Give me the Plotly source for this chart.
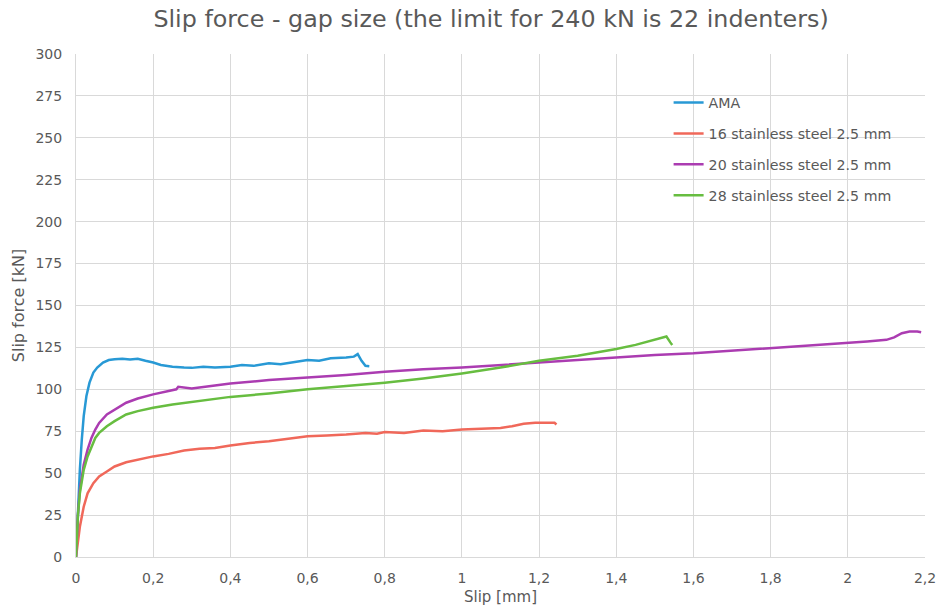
import plotly.graph_objects as go

# Slip [mm] / slip force [kN] readings for each test series
ama_slip = [0, 0.005, 0.01, 0.015, 0.02, 0.027, 0.035, 0.045, 0.055, 0.07, 0.085, 0.1, 0.12, 0.14,
            0.16, 0.18, 0.2, 0.22, 0.25, 0.28, 0.3, 0.33, 0.36, 0.4, 0.43, 0.46, 0.5, 0.53, 0.56,
            0.6, 0.63, 0.66, 0.7, 0.72, 0.73, 0.74, 0.75, 0.76]
ama_force = [0, 30, 52, 70, 84, 96, 104, 110, 113, 116, 117.5, 118, 118.3, 117.8,
             118.2, 117, 116, 114.5, 113.5, 113, 112.8, 113.5, 113, 113.5, 114.5, 114, 115.5, 115, 116,
             117.5, 117, 118.5, 119, 119.5, 121, 117, 114, 113.8]

ss16_slip = [0, 0.005, 0.01, 0.02, 0.03, 0.045, 0.06, 0.08, 0.1, 0.13, 0.16, 0.2, 0.24, 0.28, 0.32,
             0.36, 0.4, 0.45, 0.5, 0.55, 0.6, 0.65, 0.7, 0.75, 0.78, 0.8, 0.85, 0.9, 0.95, 1.0, 1.05,
             1.1, 1.13, 1.16, 1.19, 1.22, 1.24, 1.245]
ss16_force = [0, 10, 18, 30, 38, 44, 48, 51, 54, 56.5, 58, 60, 61.5, 63.5, 64.5,
              65, 66.5, 68, 69, 70.5, 72, 72.5, 73, 74, 73.5, 74.5, 74, 75.5, 75, 76, 76.5,
              77, 78, 79.5, 80, 80, 80, 79]

ss20_slip = [0, 0.005, 0.01, 0.02, 0.03, 0.04, 0.05, 0.06, 0.08, 0.1, 0.13, 0.16, 0.2, 0.24, 0.26,
             0.265, 0.3, 0.35, 0.4, 0.5, 0.6, 0.7, 0.8, 0.9, 1.0, 1.1, 1.2, 1.3, 1.4, 1.5, 1.6,
             1.7, 1.8, 1.9, 2.0, 2.05, 2.1, 2.12, 2.14, 2.16, 2.18, 2.19]
ss20_force = [0, 25, 40, 55, 64, 71, 76, 80, 85, 88, 92, 94.5, 97, 99, 100,
              101.5, 100.5, 102, 103.5, 105.5, 107, 108.5, 110.5, 112, 113, 114.5, 116, 117.5, 119, 120.5, 121.5,
              123, 124.5, 126, 127.5, 128.5, 129.5, 131, 133.5, 134.5, 134.5, 134]

ss28_slip = [0, 0.005, 0.01, 0.02, 0.03, 0.04, 0.05, 0.06, 0.08, 0.1, 0.13, 0.16, 0.2, 0.25, 0.3,
             0.4, 0.5, 0.6, 0.7, 0.8, 0.9, 1.0, 1.1, 1.2, 1.3, 1.4, 1.45, 1.5, 1.52, 1.53, 1.54, 1.545]
ss28_force = [0, 25, 38, 52, 60, 66, 71, 74, 78, 81, 85, 87, 89, 91, 92.5,
              95.5, 97.5, 100, 102, 104, 106.5, 109.5, 113, 117, 120, 124, 126.5, 129.5, 131, 131.5, 128, 126.5]

series = [
    ("AMA", ama_slip, ama_force, "#2899d5"),
    ("16 stainless steel 2.5 mm", ss16_slip, ss16_force, "#f0685a"),
    ("20 stainless steel 2.5 mm", ss20_slip, ss20_force, "#ab3cb1"),
    ("28 stainless steel 2.5 mm", ss28_slip, ss28_force, "#67bd40"),
]

x_ticks = [0, 0.2, 0.4, 0.6, 0.8, 1.0, 1.2, 1.4, 1.6, 1.8, 2.0, 2.2]
x_labels = ["0", "0,2", "0,4", "0,6", "0,8", "1", "1,2", "1,4", "1,6", "1,8", "2", "2,2"]
y_ticks = list(range(0, 301, 25))

FONT = "DejaVu Sans, Verdana, sans-serif"
GREY = "#595959"
GRID = "#d9d9d9"

fig = go.Figure()
for i, (name, xs, ys, color) in enumerate(series):
    fig.add_trace(go.Scatter(
        x=xs, y=ys, mode="lines", name=name, legendgroup=f"g{i}",
        line=dict(color=color, width=2.5),
    ))

fig.update_layout(
    width=948, height=614,
    margin=dict(l=76, r=16, t=54, b=56),
    paper_bgcolor="white", plot_bgcolor="white",
    font=dict(family=FONT, color=GREY, size=14),
    title=dict(text="Slip force - gap size (the limit for 240 kN is 22 indenters)",
               x=0.518, xanchor="center", y=0.97, yanchor="middle",
               font=dict(size=23.8, color=GREY, family=FONT)),
    legend=dict(x=0.698, y=0.935, xanchor="left", yanchor="top",
                bgcolor="rgba(0,0,0,0)", font=dict(size=14.2, color=GREY),
                tracegroupgap=9.5, itemwidth=30),
    showlegend=True,
)
fig.update_xaxes(
    range=[0, 2.2], tickvals=x_ticks, ticktext=x_labels,
    showgrid=True, gridcolor=GRID, gridwidth=1,
    showline=True, linecolor=GRID, linewidth=1, mirror=False,
    zeroline=False, ticks="", ticklen=0, ticklabelstandoff=8,
    tickfont=dict(size=14, color=GREY),
    title=dict(text="Slip [mm]", font=dict(size=15, color=GREY), standoff=6),
)
fig.update_yaxes(
    range=[0, 300], tickvals=y_ticks,
    showgrid=True, gridcolor=GRID, gridwidth=1,
    showline=True, linecolor=GRID, linewidth=1,
    zeroline=False, ticks="", ticklen=0, ticklabelstandoff=10,
    tickfont=dict(size=14, color=GREY),
    title=dict(text="Slip force [kN]", font=dict(size=16, color=GREY), standoff=6),
)

fig.write_html("out.html")
